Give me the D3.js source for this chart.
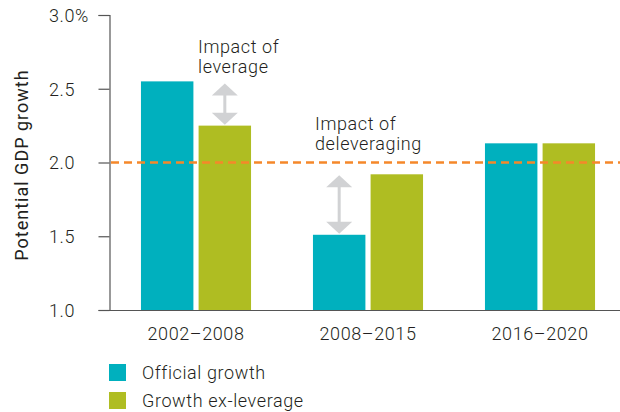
<!DOCTYPE html>
<html lang="en">
<head>
    <meta charset="UTF-8">
    <title>Potential GDP growth</title>
    <script src="https://d3js.org/d3.v7.min.js"></script>
    <style>
        body { margin: 0; background: #fff; }
        text { font-family: Roboto, "Liberation Sans", sans-serif; font-weight: 300; fill: #231f20; letter-spacing: 0.6px; }
    </style>
</head>
<body>
    <svg width="620" height="412"></svg>
    <script>
        // Data
        const periods = ["2002–2008", "2008–2015", "2016–2020"];
        const seriesNames = ["Official growth", "Growth ex-leverage"];
        const officialGrowth = [2.55, 1.51, 2.13];
        const growthExLeverage = [2.25, 1.92, 2.13];
        const yTicks = [1.0, 1.5, 2.0, 2.5, 3.0];
        const referenceLevel = 2.0;
        const colors = ["#00b0be", "#afbd22"];

        const svg = d3.select("svg");

        // Scales
        const x0 = d3.scaleBand()
            .domain(periods)
            .range([110, 626])
            .paddingInner(0.36)
            .paddingOuter(0.18);

        const x1 = d3.scaleBand()
            .domain(seriesNames)
            .range([0, x0.bandwidth()])
            .paddingInner(0.09);

        const y = d3.scaleLinear()
            .domain([1.0, 3.0])
            .range([310, 15]);

        // Bars
        const rows = periods.map((p, i) => ({ period: p, values: [officialGrowth[i], growthExLeverage[i]] }));

        svg.append("g")
            .selectAll("g")
            .data(rows)
            .enter()
            .append("g")
            .attr("transform", d => `translate(${x0(d.period)},0)`)
            .selectAll("rect")
            .data(d => d.values.map((v, j) => ({ name: seriesNames[j], value: v, color: colors[j] })))
            .enter()
            .append("rect")
            .attr("x", d => x1(d.name))
            .attr("width", x1.bandwidth())
            .attr("y", d => y(d.value))
            .attr("height", d => y(1.0) - y(d.value))
            .attr("fill", d => d.color);

        // Y axis (labels left-aligned at x = 49)
        const yAxis = d3.axisLeft(y)
            .tickValues(yTicks)
            .tickSize(11)
            .tickFormat(d => d === 3.0 ? "3.0%" : d3.format(".1f")(d));

        const yg = svg.append("g")
            .attr("transform", "translate(109.5,0)")
            .call(yAxis);
        yg.select(".domain").attr("stroke", "#555").attr("stroke-width", 1.2);
        yg.selectAll(".tick line").attr("stroke", "#555").attr("stroke-width", 1.2);
        yg.selectAll(".tick text")
            .attr("x", -60.5)
            .attr("text-anchor", "start")
            .attr("dy", "0.35em")
            .style("font-size", "18px");

        // Baseline
        svg.append("line")
            .attr("x1", 99)
            .attr("x2", 620)
            .attr("y1", y(1.0) + 0.5)
            .attr("y2", y(1.0) + 0.5)
            .attr("stroke", "#555")
            .attr("stroke-width", 1.2);

        // Dashed reference line at 2.0
        svg.append("line")
            .attr("x1", 111)
            .attr("x2", 620)
            .attr("y1", y(referenceLevel))
            .attr("y2", y(referenceLevel))
            .attr("stroke", "#f5882a")
            .attr("stroke-width", 2.5)
            .attr("stroke-dasharray", "8,5");

        // Category labels
        svg.append("g")
            .selectAll("text")
            .data(periods)
            .enter()
            .append("text")
            .attr("x", d => x0(d) + x0.bandwidth() / 2)
            .attr("y", 340)
            .attr("text-anchor", "middle")
            .style("font-size", "18px")
            .text(d => d);

        // Y axis title
        svg.append("text")
            .attr("transform", "translate(28,165) rotate(-90)")
            .attr("text-anchor", "middle")
            .style("font-size", "18px")
            .style("font-weight", 400)
            .style("letter-spacing", "1px")
            .text("Potential GDP growth");

        // Double arrows
        function doubleArrow(cx, yTop, yBottom) {
            const g = svg.append("g").attr("fill", "#d1d2d4");
            const hw = 13, hh = 12;
            g.append("path")
                .attr("d", `M${cx},${yTop} L${cx + hw},${yTop + hh} L${cx - hw},${yTop + hh} Z`);
            g.append("path")
                .attr("d", `M${cx},${yBottom} L${cx + hw},${yBottom - hh} L${cx - hw},${yBottom - hh} Z`);
            g.append("rect")
                .attr("x", cx - 1.5)
                .attr("width", 3)
                .attr("y", yTop + hh - 1)
                .attr("height", yBottom - yTop - 2 * hh + 2);
        }
        const g0 = x0(periods[0]);
        doubleArrow(g0 + x1(seriesNames[1]) + x1.bandwidth() / 2, y(officialGrowth[0]) + 2, y(growthExLeverage[0]) - 1);
        const g1 = x0(periods[1]);
        doubleArrow(g1 + x1(seriesNames[0]) + x1.bandwidth() / 2, y(growthExLeverage[1]) + 1, y(officialGrowth[1]) - 1);

        // Annotations
        const notes = [
            { lines: ["Impact of", "leverage"], x: 198, y: 53 },
            { lines: ["Impact of", "deleveraging"], x: 315, y: 130 }
        ];
        notes.forEach(n => {
            const t = svg.append("text")
                .attr("x", n.x)
                .attr("y", n.y)
                .style("font-size", "18px");
            n.lines.forEach((l, i) => {
                t.append("tspan").attr("x", n.x).attr("dy", i === 0 ? 0 : 20).text(l);
            });
        });

        // Legend
        const legend = svg.append("g")
            .selectAll("g")
            .data(seriesNames)
            .enter()
            .append("g")
            .attr("transform", (d, i) => `translate(109,${364 + i * 28})`);
        legend.append("rect")
            .attr("width", 17)
            .attr("height", 17)
            .attr("fill", (d, i) => colors[i]);
        legend.append("text")
            .attr("x", 33)
            .attr("y", 15)
            .style("font-size", "18px")
            .text(d => d);
    </script>
</body>
</html>
